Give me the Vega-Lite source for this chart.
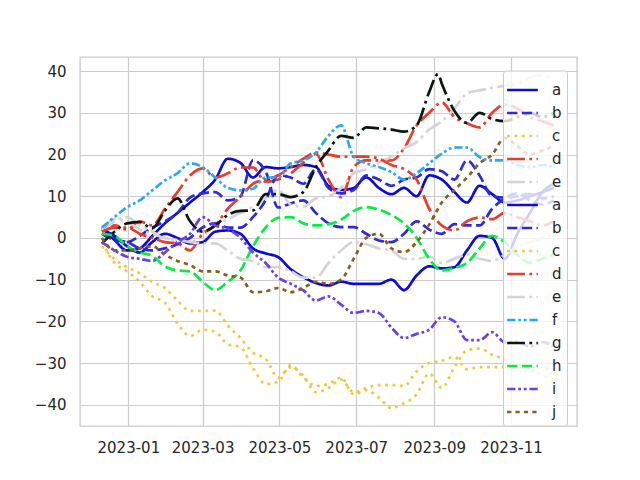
{
"$schema": "https://vega.github.io/schema/vega-lite/v6.json",
"width": 497, "height": 369,
"autosize": {"type": "none"},
"padding": {"left": 80, "top": 57, "right": 63, "bottom": 54},
"background": "white",
"config": {
  "font": "DejaVu Sans",
  "view": {"stroke": "#cccccc", "strokeWidth": 1.4},
  "axis": {"domain": false, "ticks": false, "grid": true, "gridColor": "#cccccc", "gridWidth": 1.2, "labelFont": "DejaVu Sans", "labelFontSize": 15, "labelColor": "#262626", "labelPadding": 14, "title": null}
},
"data": {"values": [
{"s":"1a","d":"2022-12-11","v":2.5},{"s":"1a","d":"2022-12-21","v":-0.5},{"s":"1a","d":"2022-12-31","v":-3},{"s":"1a","d":"2023-01-10","v":-2.5},{"s":"1a","d":"2023-01-20","v":0.5},{"s":"1a","d":"2023-01-30","v":3.5},{"s":"1a","d":"2023-02-09","v":6},{"s":"1a","d":"2023-02-19","v":8.5},{"s":"1a","d":"2023-03-01","v":11},{"s":"1a","d":"2023-03-11","v":14},{"s":"1a","d":"2023-03-21","v":19},{"s":"1a","d":"2023-03-31","v":18},{"s":"1a","d":"2023-04-10","v":14.5},{"s":"1a","d":"2023-04-20","v":17},{"s":"1a","d":"2023-04-30","v":16.7},{"s":"1a","d":"2023-05-10","v":17},{"s":"1a","d":"2023-05-20","v":17.5},{"s":"1a","d":"2023-05-30","v":17},{"s":"1a","d":"2023-06-09","v":12.5},{"s":"1a","d":"2023-06-19","v":11.5},{"s":"1a","d":"2023-06-29","v":12},{"s":"1a","d":"2023-07-09","v":14.5},{"s":"1a","d":"2023-07-19","v":12},{"s":"1a","d":"2023-07-29","v":10.5},{"s":"1a","d":"2023-08-08","v":12},{"s":"1a","d":"2023-08-18","v":10},{"s":"1a","d":"2023-08-28","v":15},{"s":"1a","d":"2023-09-07","v":14},{"s":"1a","d":"2023-09-17","v":11},{"s":"1a","d":"2023-09-27","v":8.5},{"s":"1a","d":"2023-10-07","v":12.5},{"s":"1a","d":"2023-10-17","v":10.5},{"s":"1a","d":"2023-10-27","v":8.5},{"s":"1a","d":"2023-11-06","v":9},{"s":"1a","d":"2023-11-16","v":10},{"s":"1a","d":"2023-11-26","v":11},{"s":"1a","d":"2023-12-05","v":12},
{"s":"1b","d":"2022-12-11","v":2.5},{"s":"1b","d":"2022-12-21","v":0},{"s":"1b","d":"2022-12-31","v":-1},{"s":"1b","d":"2023-01-10","v":0.5},{"s":"1b","d":"2023-01-20","v":2.5},{"s":"1b","d":"2023-01-30","v":4},{"s":"1b","d":"2023-02-09","v":6},{"s":"1b","d":"2023-02-19","v":9.7},{"s":"1b","d":"2023-03-01","v":10.7},{"s":"1b","d":"2023-03-11","v":11},{"s":"1b","d":"2023-03-21","v":9},{"s":"1b","d":"2023-03-31","v":10},{"s":"1b","d":"2023-04-10","v":18.6},{"s":"1b","d":"2023-04-20","v":16},{"s":"1b","d":"2023-04-30","v":7.3},{"s":"1b","d":"2023-05-10","v":8.3},{"s":"1b","d":"2023-05-20","v":9},{"s":"1b","d":"2023-05-30","v":6},{"s":"1b","d":"2023-06-09","v":3.5},{"s":"1b","d":"2023-06-19","v":2.6},{"s":"1b","d":"2023-06-29","v":2.6},{"s":"1b","d":"2023-07-09","v":1},{"s":"1b","d":"2023-07-19","v":-0.6},{"s":"1b","d":"2023-07-29","v":-1},{"s":"1b","d":"2023-08-08","v":1},{"s":"1b","d":"2023-08-18","v":4},{"s":"1b","d":"2023-08-28","v":2},{"s":"1b","d":"2023-09-07","v":1},{"s":"1b","d":"2023-09-17","v":3.3},{"s":"1b","d":"2023-09-27","v":3},{"s":"1b","d":"2023-10-07","v":3},{"s":"1b","d":"2023-10-17","v":7},{"s":"1b","d":"2023-10-27","v":9.5},{"s":"1b","d":"2023-11-06","v":10.7},{"s":"1b","d":"2023-11-16","v":9},{"s":"1b","d":"2023-11-26","v":8},{"s":"1b","d":"2023-12-05","v":9},
{"s":"1c","d":"2022-12-11","v":-1},{"s":"1c","d":"2022-12-21","v":-6},{"s":"1c","d":"2022-12-31","v":-8},{"s":"1c","d":"2023-01-10","v":-10.5},{"s":"1c","d":"2023-01-20","v":-14},{"s":"1c","d":"2023-01-30","v":-15.5},{"s":"1c","d":"2023-02-09","v":-20.5},{"s":"1c","d":"2023-02-19","v":-23.5},{"s":"1c","d":"2023-03-01","v":-22},{"s":"1c","d":"2023-03-11","v":-22.5},{"s":"1c","d":"2023-03-21","v":-25.5},{"s":"1c","d":"2023-03-31","v":-26.2},{"s":"1c","d":"2023-04-10","v":-31.2},{"s":"1c","d":"2023-04-20","v":-35},{"s":"1c","d":"2023-04-30","v":-34.5},{"s":"1c","d":"2023-05-10","v":-30.5},{"s":"1c","d":"2023-05-20","v":-33.5},{"s":"1c","d":"2023-05-30","v":-35.5},{"s":"1c","d":"2023-06-09","v":-35},{"s":"1c","d":"2023-06-19","v":-33.5},{"s":"1c","d":"2023-06-29","v":-37.5},{"s":"1c","d":"2023-07-09","v":-36.5},{"s":"1c","d":"2023-07-19","v":-38.3},{"s":"1c","d":"2023-07-29","v":-40.8},{"s":"1c","d":"2023-08-08","v":-39.6},{"s":"1c","d":"2023-08-18","v":-37.5},{"s":"1c","d":"2023-08-28","v":-32.5},{"s":"1c","d":"2023-09-07","v":-36},{"s":"1c","d":"2023-09-17","v":-31},{"s":"1c","d":"2023-09-27","v":-27},{"s":"1c","d":"2023-10-07","v":-26.5},{"s":"1c","d":"2023-10-17","v":-28},{"s":"1c","d":"2023-10-27","v":-29},{"s":"1c","d":"2023-11-06","v":-30},{"s":"1c","d":"2023-11-16","v":-31},{"s":"1c","d":"2023-11-26","v":-33},{"s":"1c","d":"2023-12-05","v":-34},
{"s":"1d","d":"2022-12-11","v":2.5},{"s":"1d","d":"2022-12-21","v":3},{"s":"1d","d":"2022-12-31","v":2},{"s":"1d","d":"2023-01-10","v":4},{"s":"1d","d":"2023-01-20","v":3},{"s":"1d","d":"2023-01-30","v":7},{"s":"1d","d":"2023-02-09","v":11},{"s":"1d","d":"2023-02-19","v":15},{"s":"1d","d":"2023-03-01","v":16.7},{"s":"1d","d":"2023-03-11","v":14.5},{"s":"1d","d":"2023-03-21","v":15.5},{"s":"1d","d":"2023-03-31","v":16.9},{"s":"1d","d":"2023-04-10","v":16.9},{"s":"1d","d":"2023-04-20","v":13.5},{"s":"1d","d":"2023-04-30","v":14},{"s":"1d","d":"2023-05-10","v":15.5},{"s":"1d","d":"2023-05-20","v":18},{"s":"1d","d":"2023-05-30","v":20.2},{"s":"1d","d":"2023-06-09","v":14},{"s":"1d","d":"2023-06-19","v":9.8},{"s":"1d","d":"2023-06-29","v":17},{"s":"1d","d":"2023-07-09","v":18.6},{"s":"1d","d":"2023-07-19","v":18.6},{"s":"1d","d":"2023-07-29","v":18.6},{"s":"1d","d":"2023-08-08","v":21.5},{"s":"1d","d":"2023-08-18","v":27},{"s":"1d","d":"2023-08-28","v":30},{"s":"1d","d":"2023-09-07","v":32.5},{"s":"1d","d":"2023-09-17","v":29},{"s":"1d","d":"2023-09-27","v":27.5},{"s":"1d","d":"2023-10-07","v":26.5},{"s":"1d","d":"2023-10-17","v":30},{"s":"1d","d":"2023-10-27","v":32},{"s":"1d","d":"2023-11-06","v":31},{"s":"1d","d":"2023-11-16","v":29},{"s":"1d","d":"2023-11-26","v":28},{"s":"1d","d":"2023-12-05","v":27},
{"s":"1e","d":"2022-12-11","v":1},{"s":"1e","d":"2022-12-21","v":4},{"s":"1e","d":"2022-12-31","v":5},{"s":"1e","d":"2023-01-10","v":3},{"s":"1e","d":"2023-01-20","v":1.5},{"s":"1e","d":"2023-01-30","v":0},{"s":"1e","d":"2023-02-09","v":-0.6},{"s":"1e","d":"2023-02-19","v":-1},{"s":"1e","d":"2023-03-01","v":0.5},{"s":"1e","d":"2023-03-11","v":3},{"s":"1e","d":"2023-03-21","v":4.5},{"s":"1e","d":"2023-03-31","v":6},{"s":"1e","d":"2023-04-10","v":7.5},{"s":"1e","d":"2023-04-20","v":9.5},{"s":"1e","d":"2023-04-30","v":11.5},{"s":"1e","d":"2023-05-10","v":8},{"s":"1e","d":"2023-05-20","v":7.5},{"s":"1e","d":"2023-05-30","v":9.5},{"s":"1e","d":"2023-06-09","v":10},{"s":"1e","d":"2023-06-19","v":12},{"s":"1e","d":"2023-06-29","v":15.5},{"s":"1e","d":"2023-07-09","v":16.5},{"s":"1e","d":"2023-07-19","v":18},{"s":"1e","d":"2023-07-29","v":19.5},{"s":"1e","d":"2023-08-08","v":21.5},{"s":"1e","d":"2023-08-18","v":23},{"s":"1e","d":"2023-08-28","v":26},{"s":"1e","d":"2023-09-07","v":28},{"s":"1e","d":"2023-09-17","v":31},{"s":"1e","d":"2023-09-27","v":34.7},{"s":"1e","d":"2023-10-07","v":35.4},{"s":"1e","d":"2023-10-17","v":36},{"s":"1e","d":"2023-10-27","v":36.5},{"s":"1e","d":"2023-11-06","v":37},{"s":"1e","d":"2023-11-16","v":38.5},{"s":"1e","d":"2023-11-26","v":39},{"s":"1e","d":"2023-12-05","v":38},
{"s":"2a","d":"2022-12-11","v":2},{"s":"2a","d":"2022-12-21","v":0.5},{"s":"2a","d":"2022-12-31","v":-2},{"s":"2a","d":"2023-01-10","v":-3.5},{"s":"2a","d":"2023-01-20","v":-1},{"s":"2a","d":"2023-01-30","v":1},{"s":"2a","d":"2023-02-09","v":0},{"s":"2a","d":"2023-02-19","v":-1.3},{"s":"2a","d":"2023-03-01","v":-1},{"s":"2a","d":"2023-03-11","v":1.5},{"s":"2a","d":"2023-03-21","v":1.8},{"s":"2a","d":"2023-03-31","v":1},{"s":"2a","d":"2023-04-10","v":-2.5},{"s":"2a","d":"2023-04-20","v":-3.7},{"s":"2a","d":"2023-04-30","v":-4.6},{"s":"2a","d":"2023-05-10","v":-7.5},{"s":"2a","d":"2023-05-20","v":-9.4},{"s":"2a","d":"2023-05-30","v":-10.8},{"s":"2a","d":"2023-06-09","v":-11.4},{"s":"2a","d":"2023-06-19","v":-10.5},{"s":"2a","d":"2023-06-29","v":-11},{"s":"2a","d":"2023-07-09","v":-11},{"s":"2a","d":"2023-07-19","v":-11},{"s":"2a","d":"2023-07-29","v":-10},{"s":"2a","d":"2023-08-08","v":-12.5},{"s":"2a","d":"2023-08-18","v":-9},{"s":"2a","d":"2023-08-28","v":-6.8},{"s":"2a","d":"2023-09-07","v":-7.3},{"s":"2a","d":"2023-09-17","v":-7},{"s":"2a","d":"2023-09-27","v":-3},{"s":"2a","d":"2023-10-07","v":0.5},{"s":"2a","d":"2023-10-17","v":0},{"s":"2a","d":"2023-10-27","v":-5},{"s":"2a","d":"2023-11-06","v":1},{"s":"2a","d":"2023-11-16","v":6},{"s":"2a","d":"2023-11-26","v":11},{"s":"2a","d":"2023-12-05","v":13},
{"s":"2b","d":"2022-12-11","v":1},{"s":"2b","d":"2022-12-21","v":-0.5},{"s":"2b","d":"2022-12-31","v":-1},{"s":"2b","d":"2023-01-10","v":-2.5},{"s":"2b","d":"2023-01-20","v":-3},{"s":"2b","d":"2023-01-30","v":-2.5},{"s":"2b","d":"2023-02-09","v":-1.5},{"s":"2b","d":"2023-02-19","v":0},{"s":"2b","d":"2023-03-01","v":2.5},{"s":"2b","d":"2023-03-11","v":3.5},{"s":"2b","d":"2023-03-21","v":2.5},{"s":"2b","d":"2023-03-31","v":2.5},{"s":"2b","d":"2023-04-10","v":5},{"s":"2b","d":"2023-04-20","v":9},{"s":"2b","d":"2023-04-30","v":15},{"s":"2b","d":"2023-05-10","v":14.5},{"s":"2b","d":"2023-05-20","v":13},{"s":"2b","d":"2023-05-30","v":16.5},{"s":"2b","d":"2023-06-09","v":12},{"s":"2b","d":"2023-06-19","v":10.7},{"s":"2b","d":"2023-06-29","v":11.5},{"s":"2b","d":"2023-07-09","v":15},{"s":"2b","d":"2023-07-19","v":14},{"s":"2b","d":"2023-07-29","v":12.5},{"s":"2b","d":"2023-08-08","v":14},{"s":"2b","d":"2023-08-18","v":14.5},{"s":"2b","d":"2023-08-28","v":16.5},{"s":"2b","d":"2023-09-07","v":16},{"s":"2b","d":"2023-09-17","v":14},{"s":"2b","d":"2023-09-27","v":18.6},{"s":"2b","d":"2023-10-07","v":15},{"s":"2b","d":"2023-10-17","v":10},{"s":"2b","d":"2023-10-27","v":9.7},{"s":"2b","d":"2023-11-06","v":10},{"s":"2b","d":"2023-11-16","v":10.5},{"s":"2b","d":"2023-11-26","v":9.5},{"s":"2b","d":"2023-12-05","v":10},
{"s":"2c","d":"2022-12-11","v":-2},{"s":"2c","d":"2022-12-21","v":-5},{"s":"2c","d":"2022-12-31","v":-7},{"s":"2c","d":"2023-01-10","v":-8.5},{"s":"2c","d":"2023-01-20","v":-10.5},{"s":"2c","d":"2023-01-30","v":-12},{"s":"2c","d":"2023-02-09","v":-15},{"s":"2c","d":"2023-02-19","v":-17.5},{"s":"2c","d":"2023-03-01","v":-17.5},{"s":"2c","d":"2023-03-11","v":-17.4},{"s":"2c","d":"2023-03-21","v":-21},{"s":"2c","d":"2023-03-31","v":-24},{"s":"2c","d":"2023-04-10","v":-27.5},{"s":"2c","d":"2023-04-20","v":-29},{"s":"2c","d":"2023-04-30","v":-33.5},{"s":"2c","d":"2023-05-10","v":-31},{"s":"2c","d":"2023-05-20","v":-33},{"s":"2c","d":"2023-05-30","v":-37},{"s":"2c","d":"2023-06-09","v":-36},{"s":"2c","d":"2023-06-19","v":-34},{"s":"2c","d":"2023-06-29","v":-37},{"s":"2c","d":"2023-07-09","v":-36},{"s":"2c","d":"2023-07-19","v":-35.3},{"s":"2c","d":"2023-07-29","v":-35.3},{"s":"2c","d":"2023-08-08","v":-35.5},{"s":"2c","d":"2023-08-18","v":-32},{"s":"2c","d":"2023-08-28","v":-30},{"s":"2c","d":"2023-09-07","v":-29.5},{"s":"2c","d":"2023-09-17","v":-28.5},{"s":"2c","d":"2023-09-27","v":-31.5},{"s":"2c","d":"2023-10-07","v":-31},{"s":"2c","d":"2023-10-17","v":-31},{"s":"2c","d":"2023-10-27","v":-31},{"s":"2c","d":"2023-11-06","v":-31.5},{"s":"2c","d":"2023-11-16","v":-32},{"s":"2c","d":"2023-11-26","v":-31},{"s":"2c","d":"2023-12-05","v":-33},
{"s":"2d","d":"2022-12-11","v":1.5},{"s":"2d","d":"2022-12-21","v":2.5},{"s":"2d","d":"2022-12-31","v":2.5},{"s":"2d","d":"2023-01-10","v":1},{"s":"2d","d":"2023-01-20","v":0},{"s":"2d","d":"2023-01-30","v":-1},{"s":"2d","d":"2023-02-09","v":-1.3},{"s":"2d","d":"2023-02-19","v":-3},{"s":"2d","d":"2023-03-01","v":1},{"s":"2d","d":"2023-03-11","v":3},{"s":"2d","d":"2023-03-21","v":7},{"s":"2d","d":"2023-03-31","v":9.8},{"s":"2d","d":"2023-04-10","v":13},{"s":"2d","d":"2023-04-20","v":14},{"s":"2d","d":"2023-04-30","v":15},{"s":"2d","d":"2023-05-10","v":17},{"s":"2d","d":"2023-05-20","v":19},{"s":"2d","d":"2023-05-30","v":20.5},{"s":"2d","d":"2023-06-09","v":20},{"s":"2d","d":"2023-06-19","v":19.5},{"s":"2d","d":"2023-06-29","v":19.5},{"s":"2d","d":"2023-07-09","v":19.5},{"s":"2d","d":"2023-07-19","v":19},{"s":"2d","d":"2023-07-29","v":17.5},{"s":"2d","d":"2023-08-08","v":16.5},{"s":"2d","d":"2023-08-18","v":14},{"s":"2d","d":"2023-08-28","v":7},{"s":"2d","d":"2023-09-07","v":3},{"s":"2d","d":"2023-09-17","v":1.8},{"s":"2d","d":"2023-09-27","v":4},{"s":"2d","d":"2023-10-07","v":4.9},{"s":"2d","d":"2023-10-17","v":4.5},{"s":"2d","d":"2023-10-27","v":6},{"s":"2d","d":"2023-11-06","v":5},{"s":"2d","d":"2023-11-16","v":4},{"s":"2d","d":"2023-11-26","v":3},{"s":"2d","d":"2023-12-05","v":4},
{"s":"2e","d":"2022-12-11","v":2},{"s":"2e","d":"2022-12-21","v":4.5},{"s":"2e","d":"2022-12-31","v":4},{"s":"2e","d":"2023-01-10","v":2},{"s":"2e","d":"2023-01-20","v":1},{"s":"2e","d":"2023-01-30","v":0},{"s":"2e","d":"2023-02-09","v":-0.5},{"s":"2e","d":"2023-02-19","v":-1},{"s":"2e","d":"2023-03-01","v":-1.3},{"s":"2e","d":"2023-03-11","v":-1.3},{"s":"2e","d":"2023-03-21","v":-3},{"s":"2e","d":"2023-03-31","v":-5},{"s":"2e","d":"2023-04-10","v":-5.5},{"s":"2e","d":"2023-04-20","v":-7},{"s":"2e","d":"2023-04-30","v":-7},{"s":"2e","d":"2023-05-10","v":-8},{"s":"2e","d":"2023-05-20","v":-9.5},{"s":"2e","d":"2023-05-30","v":-9.5},{"s":"2e","d":"2023-06-09","v":-6},{"s":"2e","d":"2023-06-19","v":-3},{"s":"2e","d":"2023-06-29","v":-1},{"s":"2e","d":"2023-07-09","v":-1.5},{"s":"2e","d":"2023-07-19","v":-2.5},{"s":"2e","d":"2023-07-29","v":-3},{"s":"2e","d":"2023-08-08","v":-5},{"s":"2e","d":"2023-08-18","v":-5},{"s":"2e","d":"2023-08-28","v":-4.5},{"s":"2e","d":"2023-09-07","v":-6},{"s":"2e","d":"2023-09-17","v":-5},{"s":"2e","d":"2023-09-27","v":-4},{"s":"2e","d":"2023-10-07","v":-5},{"s":"2e","d":"2023-10-17","v":-5.5},{"s":"2e","d":"2023-10-27","v":-4},{"s":"2e","d":"2023-11-06","v":-2},{"s":"2e","d":"2023-11-16","v":-1},{"s":"2e","d":"2023-11-26","v":0},{"s":"2e","d":"2023-12-05","v":1},
{"s":"2f","d":"2022-12-11","v":2.5},{"s":"2f","d":"2022-12-21","v":5},{"s":"2f","d":"2022-12-31","v":7.4},{"s":"2f","d":"2023-01-10","v":9},{"s":"2f","d":"2023-01-20","v":11.4},{"s":"2f","d":"2023-01-30","v":13.8},{"s":"2f","d":"2023-02-09","v":15.5},{"s":"2f","d":"2023-02-19","v":17.9},{"s":"2f","d":"2023-03-01","v":17},{"s":"2f","d":"2023-03-11","v":14.5},{"s":"2f","d":"2023-03-21","v":12},{"s":"2f","d":"2023-03-31","v":11.4},{"s":"2f","d":"2023-04-10","v":11.8},{"s":"2f","d":"2023-04-20","v":14.5},{"s":"2f","d":"2023-04-30","v":14.5},{"s":"2f","d":"2023-05-10","v":17.9},{"s":"2f","d":"2023-05-20","v":18.6},{"s":"2f","d":"2023-05-30","v":20.5},{"s":"2f","d":"2023-06-09","v":24.5},{"s":"2f","d":"2023-06-19","v":27},{"s":"2f","d":"2023-06-29","v":19.5},{"s":"2f","d":"2023-07-09","v":17.9},{"s":"2f","d":"2023-07-19","v":17},{"s":"2f","d":"2023-07-29","v":15.8},{"s":"2f","d":"2023-08-08","v":14},{"s":"2f","d":"2023-08-18","v":15.5},{"s":"2f","d":"2023-08-28","v":17.9},{"s":"2f","d":"2023-09-07","v":20.2},{"s":"2f","d":"2023-09-17","v":21.7},{"s":"2f","d":"2023-09-27","v":21.7},{"s":"2f","d":"2023-10-07","v":19.4},{"s":"2f","d":"2023-10-17","v":18.6},{"s":"2f","d":"2023-10-27","v":18.6},{"s":"2f","d":"2023-11-06","v":17.5},{"s":"2f","d":"2023-11-16","v":17},{"s":"2f","d":"2023-11-26","v":17.5},{"s":"2f","d":"2023-12-05","v":17},
{"s":"2g","d":"2022-12-11","v":-1.3},{"s":"2g","d":"2022-12-21","v":1.5},{"s":"2g","d":"2022-12-31","v":3.5},{"s":"2g","d":"2023-01-10","v":3.8},{"s":"2g","d":"2023-01-20","v":2.3},{"s":"2g","d":"2023-01-30","v":6.5},{"s":"2g","d":"2023-02-09","v":9.5},{"s":"2g","d":"2023-02-19","v":4},{"s":"2g","d":"2023-03-01","v":1.5},{"s":"2g","d":"2023-03-11","v":3},{"s":"2g","d":"2023-03-21","v":5.5},{"s":"2g","d":"2023-03-31","v":6.5},{"s":"2g","d":"2023-04-10","v":6.6},{"s":"2g","d":"2023-04-20","v":10.5},{"s":"2g","d":"2023-04-30","v":10.5},{"s":"2g","d":"2023-05-10","v":9.8},{"s":"2g","d":"2023-05-20","v":11},{"s":"2g","d":"2023-05-30","v":17},{"s":"2g","d":"2023-06-09","v":21},{"s":"2g","d":"2023-06-19","v":24.5},{"s":"2g","d":"2023-06-29","v":24},{"s":"2g","d":"2023-07-09","v":26.5},{"s":"2g","d":"2023-07-19","v":26.3},{"s":"2g","d":"2023-07-29","v":26},{"s":"2g","d":"2023-08-08","v":25.5},{"s":"2g","d":"2023-08-18","v":27},{"s":"2g","d":"2023-08-28","v":35},{"s":"2g","d":"2023-09-04","v":39.3},{"s":"2g","d":"2023-09-07","v":37},{"s":"2g","d":"2023-09-17","v":30.5},{"s":"2g","d":"2023-09-27","v":27.6},{"s":"2g","d":"2023-10-07","v":30},{"s":"2g","d":"2023-10-17","v":28.5},{"s":"2g","d":"2023-10-27","v":28},{"s":"2g","d":"2023-11-06","v":29},{"s":"2g","d":"2023-11-16","v":30},{"s":"2g","d":"2023-11-26","v":29},{"s":"2g","d":"2023-12-05","v":30},
{"s":"2h","d":"2022-12-11","v":1},{"s":"2h","d":"2022-12-21","v":0.5},{"s":"2h","d":"2022-12-31","v":-2},{"s":"2h","d":"2023-01-10","v":-3.5},{"s":"2h","d":"2023-01-20","v":-4.3},{"s":"2h","d":"2023-01-30","v":-6.8},{"s":"2h","d":"2023-02-09","v":-7.8},{"s":"2h","d":"2023-02-19","v":-8},{"s":"2h","d":"2023-03-01","v":-10.5},{"s":"2h","d":"2023-03-11","v":-12.5},{"s":"2h","d":"2023-03-21","v":-10.5},{"s":"2h","d":"2023-03-31","v":-7.8},{"s":"2h","d":"2023-04-10","v":-2},{"s":"2h","d":"2023-04-20","v":2.5},{"s":"2h","d":"2023-04-30","v":4.8},{"s":"2h","d":"2023-05-10","v":5},{"s":"2h","d":"2023-05-20","v":3.5},{"s":"2h","d":"2023-05-30","v":3},{"s":"2h","d":"2023-06-09","v":3.3},{"s":"2h","d":"2023-06-19","v":4.4},{"s":"2h","d":"2023-06-29","v":6.5},{"s":"2h","d":"2023-07-09","v":7.4},{"s":"2h","d":"2023-07-19","v":6.8},{"s":"2h","d":"2023-07-29","v":5.5},{"s":"2h","d":"2023-08-08","v":3.5},{"s":"2h","d":"2023-08-18","v":0},{"s":"2h","d":"2023-08-28","v":-5},{"s":"2h","d":"2023-09-07","v":-7.8},{"s":"2h","d":"2023-09-17","v":-7.2},{"s":"2h","d":"2023-09-27","v":-6},{"s":"2h","d":"2023-10-07","v":-2.5},{"s":"2h","d":"2023-10-17","v":0.5},{"s":"2h","d":"2023-10-27","v":-1},{"s":"2h","d":"2023-11-06","v":-4},{"s":"2h","d":"2023-11-16","v":-6},{"s":"2h","d":"2023-11-26","v":-5},{"s":"2h","d":"2023-12-05","v":-4},
{"s":"2i","d":"2022-12-11","v":-1},{"s":"2i","d":"2022-12-21","v":-3},{"s":"2i","d":"2022-12-31","v":-4.5},{"s":"2i","d":"2023-01-10","v":-5},{"s":"2i","d":"2023-01-20","v":-5.5},{"s":"2i","d":"2023-01-30","v":-3.5},{"s":"2i","d":"2023-02-09","v":-1},{"s":"2i","d":"2023-02-19","v":1},{"s":"2i","d":"2023-03-01","v":5},{"s":"2i","d":"2023-03-11","v":3},{"s":"2i","d":"2023-03-21","v":2.2},{"s":"2i","d":"2023-03-31","v":0},{"s":"2i","d":"2023-04-10","v":-3.5},{"s":"2i","d":"2023-04-20","v":-6},{"s":"2i","d":"2023-04-30","v":-9.5},{"s":"2i","d":"2023-05-10","v":-11},{"s":"2i","d":"2023-05-20","v":-12.6},{"s":"2i","d":"2023-05-30","v":-15},{"s":"2i","d":"2023-06-09","v":-14},{"s":"2i","d":"2023-06-19","v":-16},{"s":"2i","d":"2023-06-29","v":-18},{"s":"2i","d":"2023-07-09","v":-17.5},{"s":"2i","d":"2023-07-19","v":-18},{"s":"2i","d":"2023-07-29","v":-21.5},{"s":"2i","d":"2023-08-08","v":-24},{"s":"2i","d":"2023-08-18","v":-23},{"s":"2i","d":"2023-08-28","v":-22},{"s":"2i","d":"2023-09-07","v":-19},{"s":"2i","d":"2023-09-17","v":-20},{"s":"2i","d":"2023-09-27","v":-24.5},{"s":"2i","d":"2023-10-07","v":-24.5},{"s":"2i","d":"2023-10-17","v":-22.6},{"s":"2i","d":"2023-10-27","v":-25},{"s":"2i","d":"2023-11-06","v":-25},{"s":"2i","d":"2023-11-16","v":-26},{"s":"2i","d":"2023-11-26","v":-25},{"s":"2i","d":"2023-12-05","v":-26},
{"s":"2j","d":"2022-12-11","v":0},{"s":"2j","d":"2022-12-21","v":-3},{"s":"2j","d":"2022-12-31","v":-3},{"s":"2j","d":"2023-01-10","v":-2.5},{"s":"2j","d":"2023-01-20","v":-2},{"s":"2j","d":"2023-01-30","v":-4},{"s":"2j","d":"2023-02-09","v":-5.5},{"s":"2j","d":"2023-02-19","v":-6.5},{"s":"2j","d":"2023-03-01","v":-8},{"s":"2j","d":"2023-03-11","v":-8},{"s":"2j","d":"2023-03-21","v":-9},{"s":"2j","d":"2023-03-31","v":-9.5},{"s":"2j","d":"2023-04-10","v":-13},{"s":"2j","d":"2023-04-20","v":-12.8},{"s":"2j","d":"2023-04-30","v":-12},{"s":"2j","d":"2023-05-10","v":-13},{"s":"2j","d":"2023-05-20","v":-12},{"s":"2j","d":"2023-05-30","v":-10.5},{"s":"2j","d":"2023-06-09","v":-11},{"s":"2j","d":"2023-06-19","v":-10},{"s":"2j","d":"2023-06-29","v":-5},{"s":"2j","d":"2023-07-09","v":0},{"s":"2j","d":"2023-07-19","v":1},{"s":"2j","d":"2023-07-29","v":-2.5},{"s":"2j","d":"2023-08-08","v":-3.4},{"s":"2j","d":"2023-08-18","v":-1},{"s":"2j","d":"2023-08-28","v":3.2},{"s":"2j","d":"2023-09-07","v":8.5},{"s":"2j","d":"2023-09-17","v":11.5},{"s":"2j","d":"2023-09-27","v":14.5},{"s":"2j","d":"2023-10-07","v":17.9},{"s":"2j","d":"2023-10-17","v":20},{"s":"2j","d":"2023-10-27","v":24},{"s":"2j","d":"2023-11-06","v":22},{"s":"2j","d":"2023-11-16","v":20},{"s":"2j","d":"2023-11-26","v":21},{"s":"2j","d":"2023-12-05","v":22}
]},
"mark": {"type": "line", "strokeWidth": 2.7, "strokeJoin": "round", "interpolate": "monotone", "clip": true},
"encoding": {
  "x": {"field": "d", "type": "temporal", "title": null,
    "scale": {"domain": [{"year": 2022, "month": 11, "date": 23, "hours": 14}, {"year": 2023, "month": 12, "date": 23, "hours": 10}]},
    "axis": {"format": "%Y-%m", "labelAngle": 0, "labelAlign": "center", "values": [{"year": 2023, "month": 1, "date": 1}, {"year": 2023, "month": 3, "date": 1}, {"year": 2023, "month": 5, "date": 1}, {"year": 2023, "month": 7, "date": 1}, {"year": 2023, "month": 9, "date": 1}, {"year": 2023, "month": 11, "date": 1}]}},
  "y": {"field": "v", "type": "quantitative", "title": null,
    "scale": {"domain": [-45.1, 43.4], "nice": false, "zero": false},
    "axis": {"values": [-40, -30, -20, -10, 0, 10, 20, 30, 40]}},
  "color": {"field": "s", "type": "nominal",
    "scale": {"domain": ["1a","1b","1c","1d","1e","2a","2b","2c","2d","2e","2f","2g","2h","2i","2j"],
      "range": ["#0c0cd6","#2b2bd9","#f2c744","#ee3a2a","#d4d4d4","#0c0cd6","#2b2bd9","#f2c744","#ee3a2a","#d4d4d4","#2aa8f5","#08180e","#00f040","#6a40ec","#8f5a1c"]},
    "legend": {"orient": "none", "legendX": 423, "legendY": 13.5, "title": null, "labelExpr": "substring(datum.label, 1)", "symbolType": "M-1.17,0H1.17", "symbolSize": 690, "symbolStrokeWidth": 2.7, "labelFontSize": 15, "labelFont": "DejaVu Sans", "labelColor": "#262626", "labelOffset": 15, "rowPadding": 0, "padding": 5, "fillColor": "rgba(255,255,255,0.8)", "strokeColor": "#cccccc", "cornerRadius": 3, "labelLimit": 60}},
  "strokeDash": {"field": "s", "type": "nominal",
    "scale": {"domain": ["1a","1b","1c","1d","1e","2a","2b","2c","2d","2e","2f","2g","2h","2i","2j"],
      "range": [[1,0],[10.3,4.4],[2.8,4.6],[17.8,4.4,2.8,4.4],[17.8,4.4,2.8,4.4],[1,0],[10.3,4.4],[2.8,4.6],[17.8,4.4,2.8,4.4],[17.8,4.4,2.8,4.4],[8.3,2.8,2.8,2.8,2.8,2.8],[17.8,4.4,2.8,4.4],[10.3,4.4],[8.3,2.8,2.8,2.8,2.8,2.8],[4.2,4.2]]},
    "legend": {"orient": "none", "legendX": 423, "legendY": 13.5, "title": null, "labelExpr": "substring(datum.label, 1)", "symbolType": "M-1.17,0H1.17", "symbolSize": 690, "symbolStrokeWidth": 2.7, "labelFontSize": 15, "labelFont": "DejaVu Sans", "labelColor": "#262626", "labelOffset": 15, "rowPadding": 0, "padding": 5, "fillColor": "rgba(255,255,255,0.8)", "strokeColor": "#cccccc", "cornerRadius": 3, "labelLimit": 60}}
}
}
